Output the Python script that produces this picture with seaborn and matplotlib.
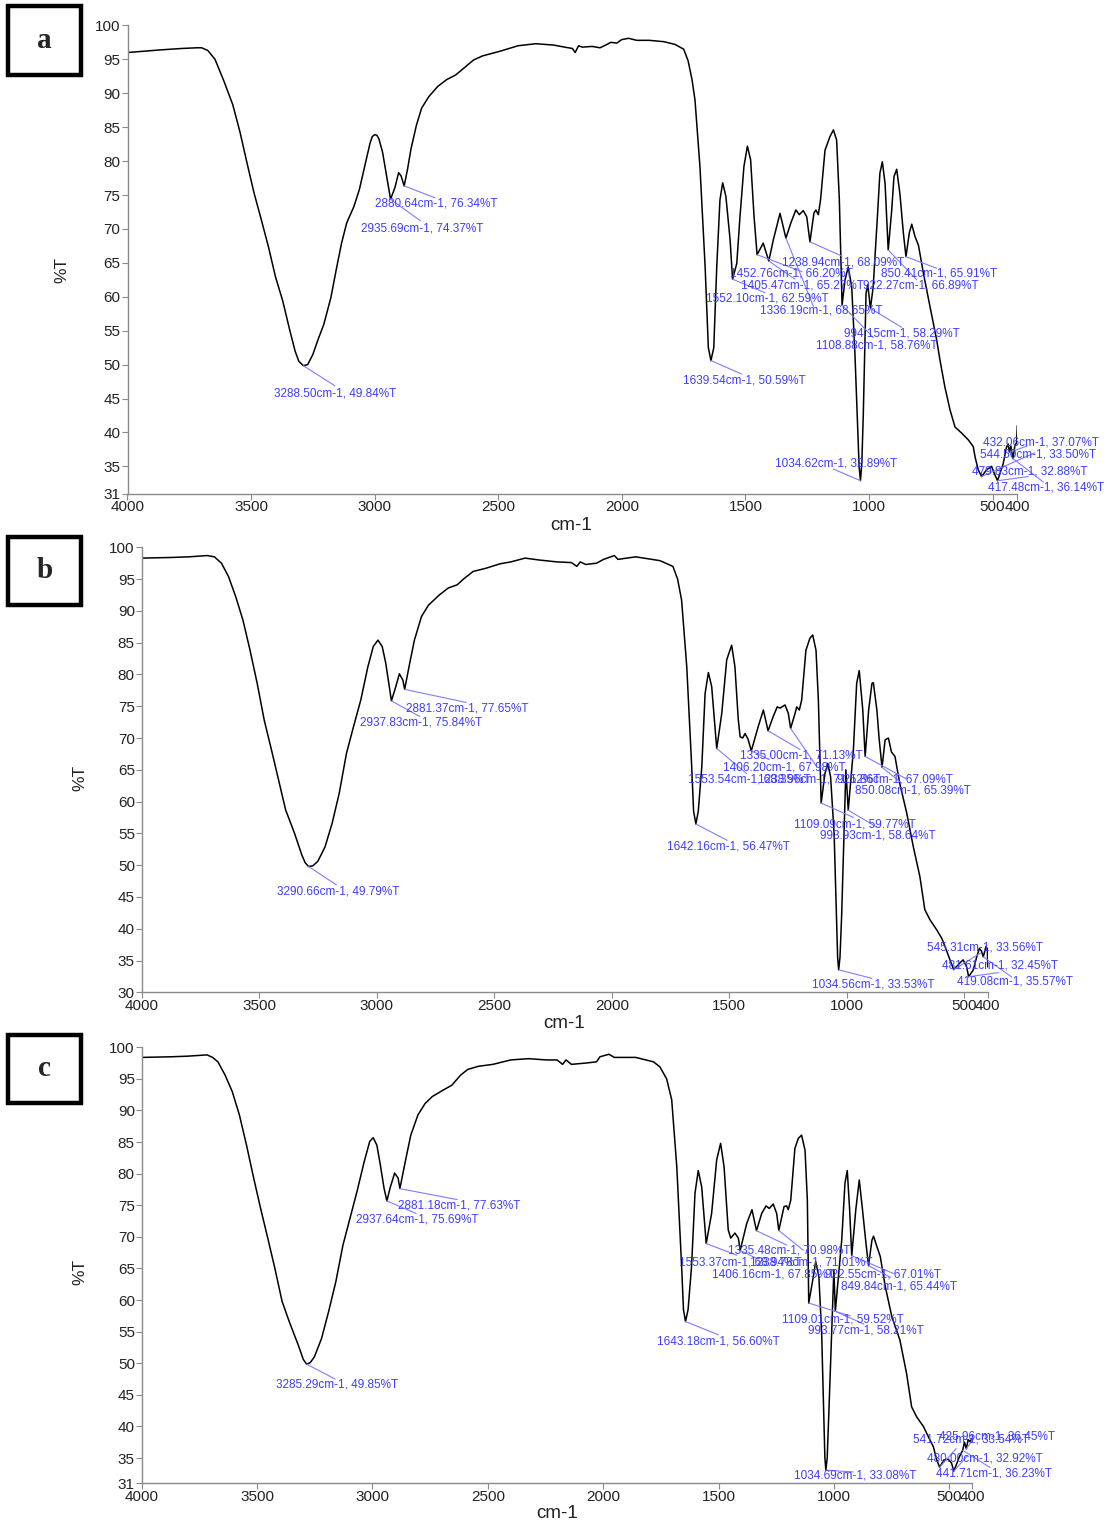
import numpy as np
import pandas as pd
import matplotlib
matplotlib.use('Agg')
import matplotlib.pyplot as plt
import seaborn as sns
from matplotlib.patches import Rectangle

sns.set_style('ticks')
plt.rcParams['font.family'] = ['Liberation Sans', 'DejaVu Sans']

# ---- spectrum a ----
wn_a = [4000, 3900, 3863, 3780, 3719, 3700, 3675, 3646, 3610, 3574, 3545, 3517, 3488, 3459, 3430,
        3401, 3372, 3343, 3322, 3307, 3288.5, 3271, 3250, 3228, 3206, 3177, 3156, 3134, 3113, 3084, 3062,
        3040, 3019, 3010, 3000, 2991, 2983, 2968, 2954, 2935.7, 2918, 2903, 2893, 2880.6, 2867, 2853, 2831, 2810,
        2781, 2745, 2709, 2672, 2636, 2600, 2564, 2492, 2420, 2348, 2276, 2232, 2200, 2189, 2175,
        2160, 2120, 2088, 2060, 2045, 2020, 2001, 1973, 1940, 1889, 1830, 1785, 1750, 1732, 1716,
        1704, 1684, 1663, 1650, 1639.5, 1628, 1616, 1603, 1592, 1579, 1562, 1552.1, 1535, 1522, 1506, 1492, 1479,
        1465, 1452.8, 1428, 1405.5, 1387, 1360, 1336.2, 1317, 1296, 1282, 1266, 1252, 1238.9, 1223,
        1215, 1205, 1196, 1178, 1158, 1144, 1131, 1120, 1108.9, 1097, 1084, 1070, 1057, 1045, 1040, 1034.6,
        1029, 1023, 1012, 1005, 994.2, 983, 966, 956, 946, 935, 922.3, 908, 899, 888, 875, 861, 850.4, 837,
        827, 814, 800, 780, 753, 726, 713, 693, 672, 652, 625, 598, 578, 571, 558, 544.5, 524, 504,
        490, 479.8, 457, 444, 437, 432.1, 426, 417.5, 410, 403, 400]
t_a = [96.0, 96.3, 96.4, 96.6, 96.7, 96.7, 96.3, 95.0, 91.8, 88.3, 84.3, 79.8, 75.3, 71.4, 67.4,
       62.9, 59.4, 55.0, 52.0, 50.5, 49.84, 50.0, 51.5, 53.8, 55.9, 59.9, 63.9, 67.9, 70.9, 73.3, 75.8,
       79.3, 82.6, 83.6, 83.9, 83.8, 83.3, 81.3, 78.3, 74.37, 76.1, 78.3, 77.8, 76.34, 78.8, 81.8, 85.3, 87.8,
       89.5, 91.0, 92.0, 92.7, 93.8, 94.9, 95.5, 96.2, 97.0, 97.3, 97.1, 96.8, 96.6, 96.0, 97.0,
       96.8, 96.9, 96.7, 97.2, 97.5, 97.4, 97.9, 98.1, 97.8, 97.8, 97.6, 97.2, 96.5, 94.8, 92.0,
       89.0, 79.2, 64.4, 52.5, 50.59, 52.5, 64.4, 74.3, 76.8, 74.8, 68.4, 62.59, 64.9, 71.8, 79.2, 82.2, 80.2,
       71.8, 66.2, 67.9, 65.27, 68.4, 72.3, 68.65, 70.8, 72.8, 72.1, 72.7, 71.8, 68.09, 72.3,
       72.8, 72.1, 74.3, 81.6, 83.6, 84.6, 83.1, 74.3, 58.76, 62.5, 64.4, 61.5, 51.7, 40.0, 35.0, 32.89,
       35.5, 42.8, 60.5, 61.8, 58.29, 61.5, 71.8, 78.2, 79.9, 76.7, 66.89, 72.8, 77.7, 78.8, 75.2, 69.4, 65.91, 69.4,
       70.7, 68.9, 67.6, 63.5, 58.5, 53.6, 50.7, 46.7, 43.3, 40.8, 39.9, 38.9, 37.9, 36.4, 34.5, 33.5, 34.5, 35.0,
       33.7, 32.88, 35.4, 37.8, 38.3, 37.07, 38.0, 36.14, 38.0, 38.5, 41.0]

# ---- spectrum b ----
wn_b = [4000, 3874, 3800, 3722, 3691, 3661, 3631, 3600, 3570, 3540, 3509, 3479, 3448, 3418, 3388,
        3350, 3319, 3305, 3290.7, 3272, 3251, 3220, 3190, 3160, 3129, 3099, 3068, 3038, 3015, 2995, 2977, 2962,
        2947, 2937.8, 2919, 2904, 2889, 2881.4, 2863, 2840, 2810, 2780, 2734, 2696, 2658, 2628, 2590,
        2536, 2476, 2430, 2369, 2309, 2233, 2172, 2149, 2134, 2111, 2065, 2035, 1989, 1974, 1898,
        1795, 1740, 1720, 1703, 1681, 1660, 1652, 1642.2, 1632, 1617, 1603, 1589, 1575, 1561, 1553.5, 1532, 1511,
        1490, 1476, 1462, 1454, 1443, 1433, 1420, 1406.2, 1377, 1355, 1335, 1313, 1296, 1284, 1263,
        1249, 1239, 1220, 1213, 1202, 1192, 1174, 1157, 1145, 1131, 1121, 1109.1, 1093, 1081, 1069,
        1054, 1044, 1039, 1034.6, 1029, 1022, 1012, 1004, 993.9, 972, 958, 947, 932, 921.9, 907, 893, 887, 872,
        862, 850.1, 837, 823, 810, 795, 775, 745, 717, 689, 668, 646, 617, 596, 582, 561, 545.3, 519,
        505, 490, 481.6, 462, 447, 436, 427, 419.1, 408, 402, 400]
t_b = [98.3, 98.4, 98.5, 98.7, 98.5, 97.5, 95.4, 92.2, 88.6, 83.9, 78.6, 72.8, 68.1, 63.4, 58.7,
       55.0, 51.6, 50.4, 49.79, 49.9, 50.6, 52.9, 56.6, 61.3, 67.6, 71.8, 76.0, 81.2, 84.4, 85.4, 84.4, 81.8,
       78.1, 75.84, 78.1, 80.1, 79.1, 77.65, 81.2, 85.4, 89.1, 90.9, 92.5, 93.6, 94.1, 95.1, 96.2,
       96.7, 97.4, 97.7, 98.3, 98.0, 97.7, 97.6, 97.0, 97.7, 97.3, 97.5, 98.1, 98.7, 98.1, 98.5,
       97.9, 97.0, 95.0, 91.7, 81.2, 65.5, 58.5, 56.47, 58.5, 65.5, 77.0, 80.3, 78.1, 71.8, 68.35, 73.9, 82.3,
       84.6, 81.2, 73.0, 70.2, 70.0, 70.7, 69.8, 67.98, 71.8, 74.4, 71.13, 73.4, 74.9, 74.7, 75.2,
       73.9, 71.52, 73.9, 74.9, 74.4, 76.0, 83.8, 85.7, 86.2, 83.8, 76.0, 59.77, 64.4, 66.0, 63.9,
       55.0, 42.0, 35.5, 33.53, 35.5, 42.0, 55.0, 65.0, 58.64, 68.1, 78.6, 80.6, 74.4, 67.09, 74.4, 78.6, 78.7, 74.4,
       69.7, 65.39, 69.7, 70.0, 67.8, 67.1, 62.9, 58.2, 52.9, 48.2, 43.0, 41.4, 39.8, 38.5, 37.2, 35.1, 33.56, 34.6,
       35.1, 34.0, 32.45, 33.5, 35.6, 36.9, 36.5, 35.57, 37.2, 36.8, 34.0]

# ---- spectrum c ----
wn_c = [4000, 3872, 3800, 3717, 3693, 3670, 3639, 3608, 3577, 3546, 3515, 3485, 3454, 3423, 3392,
        3361, 3322, 3300, 3285.3, 3270, 3252, 3221, 3190, 3159, 3128, 3098, 3067, 3036, 3012, 2997, 2981,
        2966, 2950, 2937.6, 2924, 2904, 2889, 2881.2, 2858, 2834, 2803, 2772, 2741, 2695, 2656, 2618,
        2587, 2540, 2478, 2401, 2324, 2246, 2200, 2176, 2161, 2138, 2076, 2029, 2014, 1975, 1952,
        1859, 1782, 1754, 1725, 1703, 1681, 1660, 1652, 1643.2, 1632, 1617, 1602, 1588, 1573, 1559, 1553.4, 1530,
        1508, 1491, 1476, 1458, 1447, 1429, 1414, 1406.2, 1378, 1355, 1335.5, 1313, 1294, 1280, 1263,
        1248, 1238.8, 1216, 1205, 1198, 1187, 1169, 1154, 1140, 1125, 1115, 1109, 1089, 1079, 1065,
        1053, 1044, 1039, 1034.7, 1029, 1022, 1010, 1000, 993.8, 966, 952, 942, 932, 922.6, 905, 890, 876, 861,
        849.8, 835, 828, 813, 799, 777, 749, 714, 685, 663, 641, 612, 591, 569, 554, 541.7, 523, 504,
        490, 480, 456, 441.7, 434, 426, 418, 410, 400]
t_c = [98.4, 98.5, 98.6, 98.8, 98.4, 97.7, 95.6, 93.0, 89.3, 84.5, 79.3, 74.5, 69.8, 65.0, 59.8,
       56.6, 52.9, 50.6, 49.85, 50.1, 51.0, 53.9, 58.2, 62.9, 68.7, 72.9, 77.2, 81.9, 85.1, 85.7, 84.5,
       81.4, 77.7, 75.69, 77.7, 80.1, 79.3, 77.63, 81.9, 86.1, 89.3, 91.1, 92.2, 93.2, 94.0, 95.6,
       96.5, 97.0, 97.3, 98.0, 98.2, 98.0, 98.0, 97.3, 98.0, 97.3, 97.5, 97.7, 98.5, 98.9, 98.4,
       98.4, 97.7, 96.9, 95.0, 91.7, 81.1, 65.3, 58.5, 56.60, 58.5, 65.3, 76.9, 80.5, 77.9, 71.6, 68.94, 73.7,
       82.2, 84.8, 81.1, 71.1, 69.8, 70.6, 69.8, 67.85, 72.1, 74.3, 70.98, 73.7, 74.9, 74.5, 75.2,
       73.7, 71.01, 74.8, 74.9, 74.3, 75.8, 84.0, 85.6, 86.1, 83.7, 75.8, 59.52, 63.7, 66.1, 63.7,
       54.7, 42.0, 35.0, 33.08, 35.0, 42.0, 54.7, 64.8, 58.21, 69.5, 78.5, 80.5, 74.5, 67.01, 74.3, 79.0, 74.3, 69.0,
       65.44, 69.5, 70.1, 68.4, 66.9, 62.1, 57.4, 53.7, 48.4, 43.1, 41.5, 40.0, 38.4, 36.8, 34.7, 33.54, 34.7, 34.8,
       34.2, 32.92, 35.2, 36.23, 37.5, 36.45, 37.9, 37.6, 38.1]

# ---- picked peaks (cm-1, %T) ----
peaks_a = [(3288.50, 49.84), (2880.64, 76.34), (2935.69, 74.37), (1639.54, 50.59), (1552.10, 62.59),
           (1452.76, 66.20), (1405.47, 65.27), (1336.19, 68.65), (1238.94, 68.09), (1108.88, 58.76),
           (994.15, 58.29), (1034.62, 32.89), (850.41, 65.91), (922.27, 66.89), (432.06, 37.07),
           (544.50, 33.50), (479.83, 32.88), (417.48, 36.14)]
peaks_b = [(3290.66, 49.79), (2881.37, 77.65), (2937.83, 75.84), (1642.16, 56.47), (1553.54, 68.35),
           (1406.20, 67.98), (1335.00, 71.13), (1238.96, 71.52), (921.86, 67.09), (850.08, 65.39),
           (1109.09, 59.77), (993.93, 58.64), (1034.56, 33.53), (545.31, 33.56), (481.61, 32.45),
           (419.08, 35.57)]
peaks_c = [(3285.29, 49.85), (2881.18, 77.63), (2937.64, 75.69), (1643.18, 56.60), (1553.37, 68.94),
           (1406.16, 67.85), (1335.48, 70.98), (1238.78, 71.01), (922.55, 67.01), (849.84, 65.44),
           (1109.01, 59.52), (993.77, 58.21), (1034.69, 33.08), (541.72, 33.54), (425.96, 36.45),
           (480.00, 32.92), (441.71, 36.23)]

# label placement: text centre (cm-1, %T) and leader line end (cm-1, %T)
place_a = [(3158, 45.8, 3162, 46.9), (2752, 73.7, 2757, 74.6), (2808, 70.1, 2815, 71.2),
           (1505, 47.6, 1515, 48.6), (1411, 59.8, 1421, 60.6), (1316, 63.4, 1271, 63.7),
           (1269, 61.6, 1300, 62.6), (1195, 58.0, 1225, 58.6), (1105, 65.0, 1110, 66.0),
           (969, 52.8, 983, 54.0), (866, 54.6, 868, 55.5), (1132, 35.4, 1144, 34.6),
           (718, 63.4, 726, 64.2), (789, 61.6, 807, 62.5), (303, 38.5, 360, 38.0),
           (316, 36.8, 330, 37.0), (351, 34.2, 356, 33.5), (285, 31.9, 295, 32.7)]
place_b = [(3163, 45.8, 3172, 46.9), (2614, 74.6, 2620, 75.6), (2812, 72.4, 2818, 73.4),
           (1503, 53.0, 1509, 53.9), (1416, 63.5, 1426, 64.4), (1268, 65.3, 1330, 66.6),
           (1192, 67.2, 1199, 68.2), (1116, 63.5, 1128, 65.5), (795, 63.5, 748, 63.6),
           (720, 61.7, 770, 63.0), (966, 56.4, 972, 57.5), (866, 54.6, 873, 56.0),
           (886, 31.3, 894, 32.2), (412, 37.0, 430, 36.2), (349, 34.2, 355, 33.1),
           (285, 31.7, 298, 32.4)]
place_c = [(3154, 46.6, 3162, 47.5), (2625, 75.0, 2633, 75.9), (2808, 72.8, 2811, 73.7),
           (1501, 53.5, 1501, 54.5), (1407, 65.9, 1421, 67.1), (1260, 64.0, 1330, 66.5),
           (1195, 67.8, 1205, 68.7), (1100, 65.9, 1133, 67.9), (789, 64.0, 742, 64.2),
           (719, 62.1, 755, 63.6), (963, 57.0, 930, 57.5), (861, 55.2, 870, 56.2),
           (909, 32.2, 916, 32.8), (404, 37.9, 470, 36.5), (292, 38.4, 400, 37.8),
           (347, 35.0, 420, 35.4), (306, 32.6, 323, 33.5)]

W, H = 1109, 1526
fig = plt.figure(figsize=(W / 100, H / 100), dpi=100)

panels = [
    dict(wn=wn_a, t=t_a, peaks=peaks_a, place=place_a, ymin=31, box=(8, 6, 81, 75), tag='a',
         ax=(127.5, 25.4, 1017.3, 493.5), ylab=(62, 270), xlab=(571, 525)),
    dict(wn=wn_b, t=t_b, peaks=peaks_b, place=place_b, ymin=30, box=(8, 537, 81, 605), tag='b',
         ax=(141.8, 547.3, 987.8, 992.3), ylab=(80, 778), xlab=(564, 1023)),
    dict(wn=wn_c, t=t_c, peaks=peaks_c, place=place_c, ymin=31, box=(8, 1035, 81, 1103), tag='c',
         ax=(141.8, 1047.3, 972.3, 1483.3), ylab=(80, 1272), xlab=(557, 1514)),
]

for p in panels:
    x0, y0, x1, y1 = p['ax']
    ax = fig.add_axes([x0 / W, 1 - y1 / H, (x1 - x0) / W, (y1 - y0) / H])
    sns.lineplot(x=p['wn'], y=p['t'], ax=ax, color='black', linewidth=1.1,
                 sort=False, estimator=None)
    ax.set_xlim(4000, 400)
    ax.set_ylim(p['ymin'], 100)
    ax.set_xticks([4000, 3500, 3000, 2500, 2000, 1500, 1000, 500, 400])
    yt = [p['ymin']] + list(range(35, 101, 5))
    ax.set_yticks(yt)
    ax.set_xlabel('')
    ax.set_ylabel('')
    sns.despine(ax=ax)
    for s in ['left', 'bottom']:
        ax.spines[s].set_color('#8a8a8a')
        ax.spines[s].set_linewidth(1.0)
    ax.tick_params(direction='out', length=4, width=0.8, color='#8a8a8a',
                   labelsize=11, labelcolor='#222222', pad=1)

    for (pw, pt), (tx, ty, ex, ey) in zip(p['peaks'], p['place']):
        ax.plot([pw, ex], [pt, ey], color='#7d7dff', linewidth=0.8, clip_on=False)
        ax.text(tx, ty, f'{pw:.2f}cm-1, {pt:.2f}%T', fontsize=8.5, color='#3d3dff',
                ha='center', va='center', clip_on=False)

    bx0, by0, bx1, by1 = p['box']
    fig.add_artist(Rectangle((bx0 / W, 1 - by1 / H), (bx1 - bx0) / W, (by1 - by0) / H,
                             transform=fig.transFigure, fill=False, edgecolor='black',
                             linewidth=3.2))
    fig.text((bx0 + bx1) / 2 / W, 1 - (by0 + by1) / 2 / H, p['tag'], ha='center', va='center',
             fontsize=21, fontweight='bold', family='Liberation Serif')
    fig.text(p['ylab'][0] / W, 1 - p['ylab'][1] / H, '%T', rotation=90, ha='center',
             va='center', fontsize=12.5, color='#222222')
    fig.text(p['xlab'][0] / W, 1 - p['xlab'][1] / H, 'cm-1', ha='center', va='center',
             fontsize=13.5, color='#222222')

fig.savefig('out.png', dpi=100)
